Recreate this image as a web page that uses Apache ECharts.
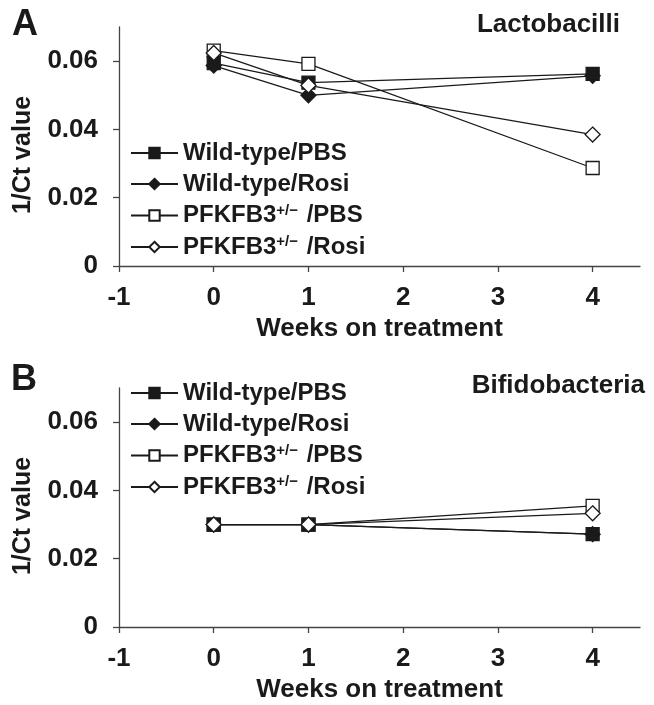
<!DOCTYPE html>
<html><head><meta charset="utf-8">
<script src="https://cdn.jsdelivr.net/npm/echarts@6/dist/echarts.min.js"></script>
<style>html,body{margin:0;padding:0;background:#fff}#c{width:654px;height:705px}</style>
</head><body><div id="c"></div>
<script>
const weeks = [0, 1, 4];
const xTicks = [-1, 0, 1, 2, 3, 4];
const yTicks = [0, 0.02, 0.04, 0.06];
const seriesNames = ['Wild-type/PBS', 'Wild-type/Rosi', 'PFKFB3+/− /PBS', 'PFKFB3+/− /Rosi'];
// Panel A: Lactobacilli
const lactoWtPbs  = [0.0594, 0.0537, 0.0563];
const lactoWtRosi = [0.0587, 0.0500, 0.0557];
const lactoPfPbs  = [0.0631, 0.0592, 0.0287];
const lactoPfRosi = [0.0624, 0.0529, 0.0385];
// Panel B: Bifidobacteria
const bifidoWtPbs  = [0.0300, 0.0300, 0.0272];
const bifidoWtRosi = [0.0300, 0.0300, 0.0272];
const bifidoPfPbs  = [0.0300, 0.0300, 0.0355];
const bifidoPfRosi = [0.0300, 0.0300, 0.0333];

const FONT = '"Liberation Sans", Arial, sans-serif';
const INK = '#1a1a1a';
const symbolDefs = [
  {symbol: 'rect', size: 13, fill: INK},
  {symbol: 'diamond', size: 15, fill: INK},
  {symbol: 'rect', size: 13, fill: '#fff'},
  {symbol: 'diamond', size: 15, fill: '#fff'}
];
function pairs(ys){ return weeks.map((w,i)=>[w, ys[i]]); }
function makeSeries(arrs, gi){
  return arrs.map((ys, i) => ({
    name: seriesNames[i], type: 'line', xAxisIndex: gi, yAxisIndex: gi,
    data: pairs(ys), symbol: symbolDefs[i].symbol, symbolSize: symbolDefs[i].size,
    showAllSymbol: true, animation: false,
    lineStyle: {color: INK, width: 1.3},
    itemStyle: {color: symbolDefs[i].fill, borderColor: INK, borderWidth: 1.3, opacity: 1},
    z: i === 0 ? 5 : 2 + i
  }));
}
function xAxis(gi){
  return {type: 'value', gridIndex: gi, min: -1, max: 4.5, interval: 1,
    axisLine: {onZero: false, lineStyle: {color: '#444', width: 1.3}},
    axisTick: {customValues: xTicks, length: 6, lineStyle: {color: '#444', width: 1.3}},
    axisLabel: {customValues: xTicks, margin: 19, color: INK, fontSize: 26, fontWeight: 'bold', fontFamily: FONT},
    splitLine: {show: false},
    name: 'Weeks on treatment', nameLocation: 'middle', nameGap: 50,
    nameTextStyle: {color: INK, fontSize: 26, fontWeight: 'bold', fontFamily: FONT}};
}
function yAxis(gi){
  return {type: 'value', gridIndex: gi, min: 0, max: 0.07, interval: 0.02,
    axisLine: {show: true, onZero: false, lineStyle: {color: '#444', width: 1.3}},
    axisTick: {show: true, customValues: yTicks, length: 6, lineStyle: {color: '#444', width: 1.3}},
    axisLabel: {customValues: yTicks, margin: 21, color: INK, fontSize: 26, fontWeight: 'bold', fontFamily: FONT,
      formatter: v => v === 0 ? '0' : v.toFixed(2)},
    splitLine: {show: false}};
}
function legend(top){
  return {orient: 'vertical', left: 125, top: top, itemWidth: 47, itemHeight: 13, itemGap: 7,
    data: seriesNames,
    formatter: n => n.replace('+/−', '{sup|+/−}'),
    textStyle: {color: INK, fontSize: 24, fontWeight: 'bold', fontFamily: FONT, lineHeight: 24,
      rich: {sup: {fontSize: 15, fontWeight: 'bold', fontFamily: FONT, color: INK, padding: [0, 2, 10, 0]}}}};
}
const chart = echarts.init(document.getElementById('c'), null, {renderer: 'canvas'});
const txt = (o) => Object.assign({fontWeight: 'bold', fontFamily: FONT, fill: INK}, o);
chart.setOption({
  backgroundColor: '#fff',
  animation: false,
  grid: [
    {left: 119, right: 14, top: 27, height: 239},
    {left: 119, right: 14, top: 388, height: 239}
  ],
  xAxis: [xAxis(0), xAxis(1)],
  yAxis: [yAxis(0), yAxis(1)],
  legend: [legend(136), legend(376)],
  graphic: [
    {type: 'text', left: 12, top: 7, style: txt({text: 'A', fontSize: 36})},
    {type: 'text', left: 11, top: 362, style: txt({text: 'B', fontSize: 36})},
    {type: 'text', right: 34, top: 12, style: txt({text: 'Lactobacilli', fontSize: 26})},
    {type: 'text', right: 9, top: 373, style: txt({text: 'Bifidobacteria', fontSize: 26})},
    {type: 'text', x: 23, y: 155, rotation: Math.PI / 2, style: txt({text: '1/Ct value', fontSize: 25, align: 'center', verticalAlign: 'middle'})},
    {type: 'text', x: 23, y: 516, rotation: Math.PI / 2, style: txt({text: '1/Ct value', fontSize: 25, align: 'center', verticalAlign: 'middle'})}
  ],
  series: makeSeries([lactoWtPbs, lactoWtRosi, lactoPfPbs, lactoPfRosi], 0)
    .concat(makeSeries([bifidoWtPbs, bifidoWtRosi, bifidoPfPbs, bifidoPfRosi], 1))
});
</script></body></html>
